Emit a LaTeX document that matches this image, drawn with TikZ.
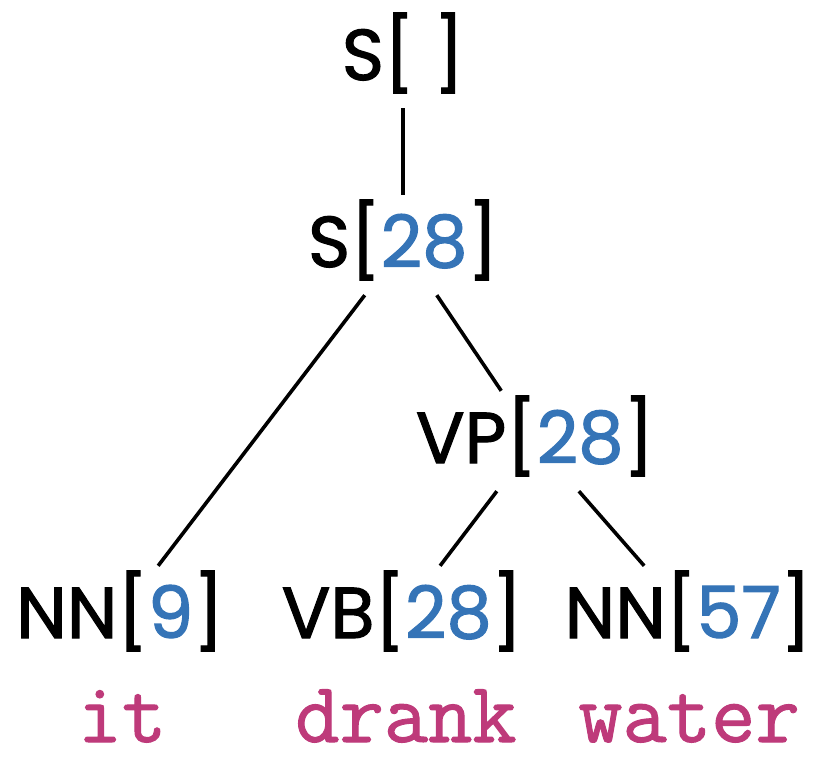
\documentclass[tikz,border=0pt]{standalone}
\usepackage{fontspec}
\newfontfamily\labelfont[FakeBold=1.6]{Poppins}
\newfontfamily\wordfont[FakeBold=1.2]{Latin Modern Mono}
\definecolor{numblue}{HTML}{3574B7}
\definecolor{wordpink}{HTML}{BE3A7A}
\newcommand{\num}[1]{\textcolor{numblue}{#1}}
\begin{document}
\begin{tikzpicture}
	[x=1pt, y=-1pt,
	cat/.style ={anchor = base, font = \labelfont\fontsize{72}{80}\selectfont, inner xsep = 0pt, inner ysep = 12pt, text height = 60pt, text depth = 16pt},
	word/.style ={anchor = base, font = \wordfont\fontsize{86}{90}\selectfont, text = wordpink, inner sep = 0pt},
	branch/.style ={line width = 3.6pt}]
	\useasboundingbox (0,0) rectangle (830,784);
	\node[cat] (top) at (403,80) {S[ ]};
	\node[cat] (s) at (403,267) {S[\num{28}]};
	\node[cat] (vp) at (535,463) {VP[\num{28}]};
	\node[cat] (nn1) at (120,638) {NN[\num{9}]};
	\node[cat] (vb) at (402,638) {VB[\num{28}]};
	\node[cat] (nn2) at (688,638) {NN[\num{57}]};
	\node[word] (w1) at (122,742) {it};
	\node[word] (w2) at (406,742) {drank};
	\node[word] (w3) at (689,742) {water};
	\draw[branch] (top) -- (s);
	\draw[branch] (s) -- (nn1);
	\draw[branch] (s) -- (vp);
	\draw[branch] (vp) -- (vb);
	\draw[branch] (vp) -- (nn2);
\end{tikzpicture}
\end{document}
